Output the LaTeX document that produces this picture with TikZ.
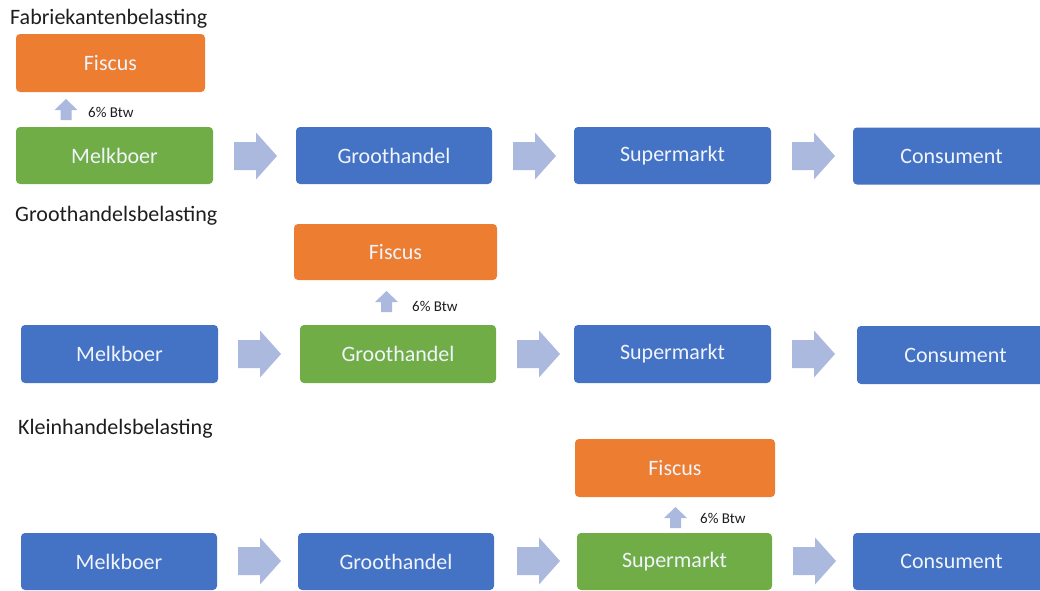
\documentclass[tikz,border=0pt]{standalone}
\usepackage{fontspec}
\setmainfont{Carlito}
\definecolor{orgc}{RGB}{237,125,49}
\definecolor{grnc}{RGB}{112,173,71}
\definecolor{bluc}{RGB}{68,114,196}
\definecolor{arrc}{RGB}{172,185,222}
\definecolor{txtc}{RGB}{30,30,30}
\definecolor{boxtxt}{RGB}{240,244,252}
\tikzset{
  box/.style={rounded corners=4pt, inner sep=0pt, minimum height=57pt, minimum width=197pt,
    text=boxtxt, font=\fontsize{22}{25}\selectfont},
  bluebox/.style={box, fill=bluc},
  greenbox/.style={box, fill=grnc},
  fiscbox/.style={box, fill=orgc},
  title/.style={anchor=base west, inner sep=0pt, text=txtc, font=\fontsize{22}{25}\selectfont},
  btw/.style={anchor=west, inner sep=0pt, text=txtc, font=\fontsize{15}{17}\selectfont},
  rarr/.pic={\fill[arrc] (0,-14) -- (22,-14) -- (22,-23.5) -- (43,0) -- (22,23.5) -- (22,14) -- (0,14) -- cycle;},
  uarr/.pic={\fill[arrc] (-5.5,0) -- (-5.5,-10) -- (-11.5,-10) -- (0,-21) -- (11.5,-10) -- (5.5,-10) -- (5.5,0) -- cycle;}
}
\begin{document}
\begin{tikzpicture}[x=1pt,y=-1pt]
\useasboundingbox (0,0) rectangle (1040,590);
% Row 1
\node[title] (t1) at (10,24) {Fabriekantenbelasting};
\node[fiscbox, minimum width=189pt, minimum height=58pt] (f1) at (110.5,63) {Fiscus};
\node[greenbox] (m1) at (114.5,155.5) {Melkboer};
\node[bluebox, minimum width=196pt] (g1) at (394,155.5) {Groothandel};
\node[bluebox] (s1) at (672.5,155.5) {Supermarkt};
\node[bluebox] (c1) at (951.5,156) {Consument};
\pic at (234,156) {rarr};
\pic at (513,156) {rarr};
\pic at (792,156) {rarr};
\pic at (66,120) {uarr};
\node[btw] (b1) at (88,112) {6\% Btw};
% Row 2
\node[title] (t2) at (15,221) {Groothandelsbelasting};
\node[fiscbox, minimum width=203pt, minimum height=56pt] (f2) at (395.5,252) {Fiscus};
\node[bluebox, minimum height=58pt] (m2) at (119.5,354) {Melkboer};
\node[greenbox, minimum width=196pt, minimum height=58pt] (g2) at (398,354) {Groothandel};
\node[bluebox, minimum height=58pt] (s2) at (672.5,354) {Supermarkt};
\node[bluebox, minimum height=58pt] (c2) at (955.5,355) {Consument};
\pic at (238,354) {rarr};
\pic at (517,354) {rarr};
\pic at (792,354) {rarr};
\pic at (386.5,312) {uarr};
\node[btw] (b2) at (412,306) {6\% Btw};
% Row 3
\node[title] (t3) at (18,434) {Kleinhandelsbelasting};
\node[fiscbox, minimum width=200pt, minimum height=58pt] (f3) at (675,468) {Fiscus};
\node[bluebox, minimum width=196pt] (m3) at (119,561.5) {Melkboer};
\node[bluebox, minimum width=196pt] (g3) at (396,561.5) {Groothandel};
\node[greenbox, minimum width=195pt] (s3) at (674.5,561.5) {Supermarkt};
\node[bluebox] (c3) at (951.5,561.5) {Consument};
\pic at (238,561) {rarr};
\pic at (517,561) {rarr};
\pic at (793,561) {rarr};
\pic at (675.5,528) {uarr};
\node[btw] (b3) at (700,518) {6\% Btw};
\end{tikzpicture}
\end{document}
